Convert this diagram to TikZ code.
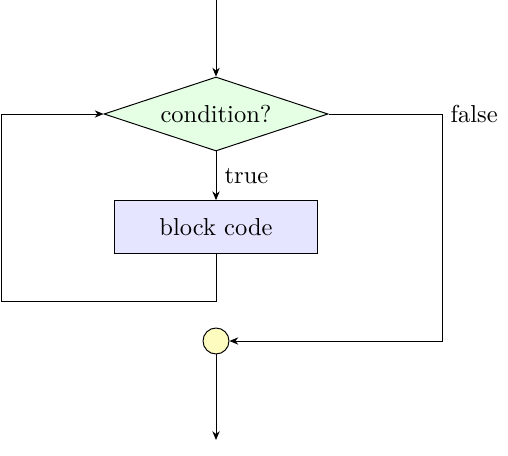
\documentclass[tikz,border=0pt]{standalone}
\usetikzlibrary{shapes.geometric,arrows.meta}
\tikzset{
	decision/.style={diamond, aspect=3, draw, fill=green!10, inner sep=0pt, minimum width=91.4pt, minimum height=30.2pt},
	block/.style={rectangle, draw, fill=blue!10, minimum width=82.6pt, minimum height=21.5pt},
	joint/.style={circle, draw, fill=yellow!25, inner sep=0pt, minimum size=10.6pt},
	flow/.style={-{Stealth[length=3.6pt,width=3pt]}}
}
\begin{document}
\begin{tikzpicture}[x=0.408pt,y=0.408pt]
		\useasboundingbox (0,0) rectangle (508,455);
		\coordinate (In) at (216,455);
		\coordinate (Out) at (216,15);
		\coordinate (Lc) at (1,154);
		\coordinate (Fc) at (442,341);
		\node [decision] (Cond) at (216,341) {condition?};
		\node [block] (Code) at (216,228) {block code};
		\node [joint] (J) at (216,114) {};
		\draw [flow] (In) to (Cond);
		\draw [flow] (Cond) to node[right] {true} (Code);
		\draw [flow] (Code.south) |- (Lc) |- (Cond.west);
		\draw [flow] (Cond.east) -- (Fc) node[right] {false} |- (J.east);
		\draw [flow] (J) to (Out);
	\end{tikzpicture}
\end{document}
